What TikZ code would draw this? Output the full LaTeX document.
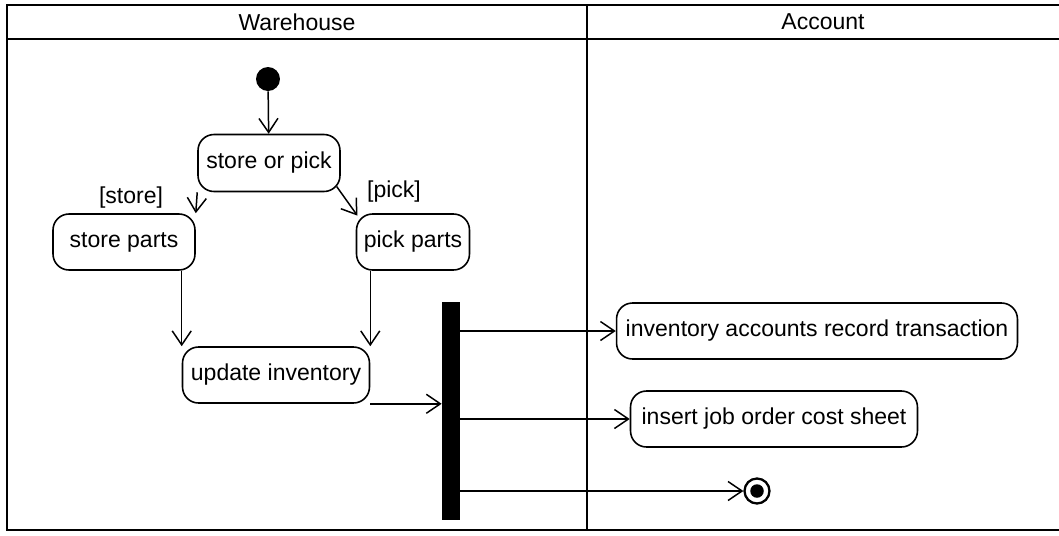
\documentclass[tikz,border=0pt]{standalone}
\usepackage{fontspec}
\setmainfont{Liberation Sans}
\usepackage{tikz}
\usetikzlibrary{arrows.meta}

\tikzset{
	activity/.style={draw, rectangle, rounded corners=0.32cm, line width=0.9pt, minimum height=1.12cm, inner xsep=0.1cm},
	flow/.style={line width=0.85pt, -{Straight Barb[length=0.28cm, width=0.38cm, line width=0.85pt]}},
	lane/.style={line width=1.6pt}
}

\begin{document}
\begin{tikzpicture}[x=0.02cm, y=-0.02cm, font=\fontsize{13.1pt}{15pt}\selectfont]
	\useasboundingbox (0,0) rectangle (1059,535);
	\draw[lane] (1059,5) -- (7,5) -- (7,530) -- (1059,530);
	\draw[lane] (7,39) -- (1059,39);
	\draw[lane] (587,5) -- (587,530);
	\node (warehouse) at (297,22) {Warehouse};
	\node (account) at (823,22) {Account};
	\node[fill=black] (start) at (268,79) [circle, inner sep=0pt, minimum size=0.48cm] {};
	\node (storepick) at (269,163) [activity, minimum width=2.84cm, minimum height=1.14cm] {store or pick};
		\node (storeparts) at (124,242) [activity, minimum width=2.84cm] {store parts};
		\node (pickparts) at (413,242) [activity, minimum width=2.26cm] {pick parts};
			\node (update) at (276,375) [activity, minimum width=3.74cm] {update inventory};
	\node[fill=black] (bar) at (451,411) [rectangle, inner sep=0pt, minimum width=0.36cm, minimum height=4.36cm] {};
	\node (record) at (817,331) [activity, minimum width=8.02cm] {inventory accounts record transaction};
	\node (jobcost) at (774,419) [activity, minimum width=5.74cm] {insert job order cost sheet};
	\node (endnode) at (757,491) [circle, draw, line width=1.3pt, inner sep=0pt, minimum size=0.5cm] {};
	\node[fill=black] (enddot) at (endnode) [circle, inner sep=0pt, minimum size=0.27cm] {};
	\node (storeguard) at (131,198) {[store]};
	\node (pickguard) at (394,192) {[pick]};
	\draw[flow] (start) -- (storepick);
	\draw[flow] (storepick.south west) -- (storeparts.north east);
	\draw[flow, shorten <=-0.14cm, shorten >=-0.06cm] (storepick.south east) -- (pickparts.north west);
	\draw[flow] (storeparts.south -| update.west) -- (update.north west);
	\draw[flow] (pickparts.south -| update.east) -- (update.north east);
	\draw[flow] (update.south east) -- (update.south east -| bar.west);
	\draw[flow] (bar.east |- record.west) -- (record.west);
	\draw[flow] (bar.east |- jobcost.west) -- (jobcost.west);
	\draw[flow] (bar.east |- endnode.west) -- (endnode.west);
\end{tikzpicture}
\end{document}
